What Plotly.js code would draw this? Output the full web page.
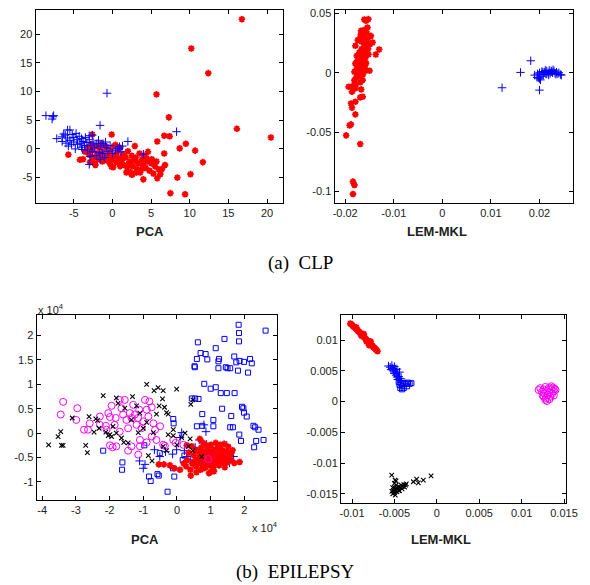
<!DOCTYPE html>
<html>
<head>
<meta charset="utf-8">
<script src="https://cdn.plot.ly/plotly-3.0.1.min.js"></script>
<style>html,body{margin:0;padding:0;background:#fff;}#chart{width:590px;height:585px;}</style>
</head>
<body>
<div id="chart"></div>
<script>
// ---------- (a) CLP : PCA ----------
const clpPcaRed = [
[16.75,22.6],[10.2,17.5],[12.4,13.2],[5.7,9.5],[7.3,5.5],[16.1,3.5],[20.5,2.0],[6.7,2.3],[7.4,2.2],[9.5,0.9],
[8.7,0.1],[10.7,-0.3],[5.8,1.3],[6.7,-0.8],[11.7,-2.3],[10.1,-4.4],[8.4,-5.0],[5.8,-5.1],[4.0,-5.3],[7.5,-7.7],
[9.4,-7.9],[-0.1,2.5],[-2.6,2.5],[-5.7,-1.0],[-4.2,-1.9],
[-3.5,-0.5],[-3.2,0.3],[-3,-1],[-2.8,0.8],[-2.6,-0.2],[-2.5,-1.5],[-2.3,-2.5],[-2.2,0.5],[-2,-0.8],[-1.8,-1.8],
[-1.7,0.2],[-1.5,-1.2],[-1.3,-2.2],[-1.2,-0.5],[-1,-1.5],[-0.8,0.4],[-0.7,-2.0],[-0.5,-1.0],[-0.3,-2.6],[-0.2,-0.3],
[0,-1.8],[0.1,-3.2],[0.2,0.5],[0.3,-1.2],[0.5,-2.3],[0.6,-0.6],[0.8,-1.6],[1,-3],[1,0.2],[1.2,-2],
[1.4,-1],[1.5,-2.8],[1.7,-1.5],[1.9,-3.2],[2,-0.4],[2.2,-2.2],[2.3,-4],[2.5,-1.2],[2.6,-3],[2.8,-2],
[2.9,0.5],[3,-1.5],[3.2,-3.5],[3.3,-2.5],[3.5,-0.8],[3.6,-4.1],[3.8,-1.9],[4,-2.8],[4.1,-1.2],[4.3,-3.3],
[4.5,-2.2],[4.6,-0.5],[4.8,-3.8],[5,-2.5],[5.1,-1.8],[5.3,-4.3],[5.5,-3],[5.7,-2.2],[6,-3.6],[6.2,-4.4],
[6.4,-3.5],[6.8,-2.8],[2.6,-4.4],[3.1,-4],[-2.9,-2.3],[-3.8,-1.8],[-2.2,-2.8],[-1.4,0.9],[0.4,0.7],[-0.1,-3.1],
[1.5,-1.3],[2.5,-4.5],[1.8,-4.1],[3.1,-4.1],[4.4,-1.6],[5.4,-2.4],[3.9,-3.4],[2.1,-2.7],[0.9,-2.4],[-0.4,-1.5]
];
const clpPcaBlue = [
[-8.6,5.8],[-7.7,5.6],[-7.6,5.8],[-7.8,5.2],[-0.7,9.7],[-1.6,4.1],[8.3,3.0],[-7.2,1.8],[-6.5,2.1],[-6.3,2.6],
[-6.1,2.4],[-5.8,3.3],[-5.5,3.3],[-3.0,2.3],[-2.6,2.4],[2.0,1.3],[0.9,0.4],[1.3,0.5],[4.0,-0.9],[-3.0,-2.7],
[-6,1],[-5.7,0.5],[-5.5,1.5],[-5.3,0.8],[-5,2],[-5,1.2],[-4.8,0],[-4.6,1.6],[-4.5,0.8],[-4.3,2.2],
[-4.2,1],[-4,0.3],[-4,1.8],[-3.8,1.3],[-3.6,0.6],[-3.5,2.0],[-3.3,1.1],[-3.2,-0.2],[-3,1.6],[-2.8,0.6],
[-2.6,-0.5],[-2.5,1.2],[-2.3,0.2],[-2.1,-1.2],[-2,0.9],[-1.8,1.5],[-1.7,-0.6],[-1.5,0.5],[-1.3,-0.8],[-1.2,0.9],
[-1,-1.5],[-0.8,0.2],[-0.6,-0.4],[-0.3,0.6],[0,-0.8],[0.4,-0.2],[0.7,0.1],[1.1,-0.5],[-5.8,1.9],[-4.7,2.7],
[-3.9,-0.1],[-2.9,-1.3],[-1.6,-1.8],[-0.9,1.2],[-6.5,1.3],[-5.2,2.5]
];
// ---------- (a) CLP : LEM-MKL ----------
const clpLemRed = [
[-0.01605,0.0448],[-0.01524,0.0451],[-0.01571,0.0437],[-0.01673,0.0353],[-0.0157,0.0367],[-0.0155,0.033],[-0.0147,0.031],[-0.0164,0.033],[-0.0171,0.0283],[-0.0174,0.0275],
[-0.01435,0.0255],[-0.0179,0.0227],[-0.0161,0.0218],[-0.0130,0.0196],[-0.0137,0.0154],[-0.0152,0.0154],[-0.0165,0.0168],[-0.0176,0.0143],[-0.0159,0.012],[-0.0171,0.0092],
[-0.0179,0.0078],[-0.0167,0.007],[-0.0176,0.0036],[-0.0150,0.0017],[-0.0181,0.0008],[-0.0167,0.0008],[-0.0174,-0.002],[-0.0164,-0.0062],[-0.0181,-0.0062],[-0.0184,-0.0112],
[-0.0193,-0.0118],[-0.0179,-0.013],[-0.0186,-0.016],[-0.0164,-0.0202],[-0.0169,-0.0207],[-0.0179,-0.0244],[-0.0188,-0.0258],[-0.0186,-0.0294],[-0.0179,-0.035],[-0.0188,-0.0434],
[-0.0191,-0.0443],[-0.0198,-0.0527],[-0.0169,-0.0599],[-0.0184,-0.0916],[-0.0181,-0.0944],[-0.0184,-0.102],
[-0.0172,0.001],[-0.0168,-0.003],[-0.0165,0.004],[-0.0162,0.010],[-0.0170,0.013],[-0.0160,0.018],[-0.0158,0.024],[-0.0166,0.020],[-0.0155,0.028],[-0.0162,0.029],
[-0.0174,0.006],[-0.0169,-0.008],[-0.0177,-0.004],[-0.0158,0.014],[-0.0153,0.020],[-0.0149,0.024],[-0.0163,-0.001],[-0.0178,-0.010],[-0.0171,0.017],[-0.0166,0.026],
[-0.0160,0.036],[-0.0154,0.038],[-0.0168,0.032],[-0.0175,0.010],[-0.0160,0.005],[-0.0157,0.008],[-0.0164,0.014],[-0.0176,0.001],[-0.0180,-0.008],[-0.0167,-0.014],[-0.0158,0.002]
];
const clpLemBlue = [
[0.0123,-0.0126],[0.0161,0.0003],[0.0182,0.0101],[0.0200,-0.0146],[0.0190,-0.002],[0.0195,-0.0039],
[0.0196,-0.001],[0.0200,0.000],[0.0203,-0.003],[0.0205,0.001],[0.0208,-0.0015],[0.0210,0.0005],[0.0213,-0.001],[0.0215,0.0015],[0.0218,0.000],[0.0220,0.002],
[0.0222,-0.0005],[0.0225,0.001],[0.0227,0.0],[0.0230,0.0015],[0.0232,-0.0005],[0.0235,0.0005],[0.0238,-0.001],[0.0240,0.0],[0.0243,-0.0015],[0.0245,-0.002],
[0.0200,-0.005],[0.0198,-0.004],[0.0215,-0.001],[0.0228,0.0025],[0.0212,0.002],[0.0219,-0.0018],[0.0224,0.0015],[0.0234,-0.0012],[0.0202,-0.006],[0.0207,0.0005]
];
// ---------- (b) EPILEPSY : PCA (values in units of 10^4) ----------
const epiPcaBlack = [
[-3.81,-0.24],[-3.53,-0.07],[-3.45,0.03],[-3.43,-0.25],[-3.38,-0.25],[-3.11,0.31],[-2.71,-0.25],[-2.66,-0.40],[-2.61,0.34],[-2.46,0.02],
[-2.41,0.29],[-2.36,0.26],[-2.31,0.10],[-2.19,0.77],[-2.11,0.02],[-2.04,-0.05],[-1.99,-0.03],[-1.94,-0.07],[-1.80,0.72],[-1.75,0.61],
[-1.55,0.51],[-1.32,0.75],[-1.58,-0.19],[-1.20,0.56],[-0.90,1.00],[-0.68,0.87],[-0.56,0.93],[-0.41,0.87],[-0.01,0.90],[-0.43,0.70],
[-0.53,0.56],[-0.37,0.53],[-0.31,0.42],[-0.26,0.39],[-0.61,0.39],[-0.90,0.22],[-0.70,0.01],[-0.26,-0.03],[-0.11,-0.05],[0.14,-0.09],
[0.24,0.0],[0.39,-0.12],[0.41,0.59],[0.47,0.68],[-1.0,0.1],[-1.15,0.01],[-1.45,-0.2],[-0.74,-0.57],[-0.85,-0.46],[-0.41,-0.27],
[-0.31,-0.36],[0.34,-0.27],[0.47,-0.36],[0.73,-0.48],[-1.8,0.0],[-1.65,-0.1],[-1.9,0.14],[-1.35,0.27],[-1.1,0.41],[-0.11,0.07],[0.0,-0.24]
];
const epiPcaMagenta = [
[-3.38,0.64],[-3.45,0.38],[-2.96,0.51],[-2.99,0.27],[-2.76,0.07],[-2.64,0.07],[-2.59,0.20],[-2.29,0.17],[-2.11,0.15],[-2.09,0.07],
[-2.04,0.41],[-1.99,0.33],[-1.94,0.56],[-1.99,-0.25],[-1.91,-0.29],[-1.80,-0.27],[-1.70,0.68],[-1.65,0.51],[-1.60,0.38],[-1.55,0.68],
[-1.50,0.27],[-1.45,0.10],[-1.40,0.41],[-1.35,0.31],[-1.30,0.58],[-1.25,0.38],[-1.20,0.17],[-1.15,0.31],[-1.12,0.48],[-1.05,0.10],
[-1.00,0.24],[-0.95,0.68],[-0.90,0.48],[-0.85,0.34],[-0.82,0.65],[-0.75,0.53],[-0.70,0.20],[-0.65,0.07],[-0.61,-0.14],[-0.50,0.14],
[-0.41,-0.24],[-0.36,-0.26],[-1.45,-0.36],[-1.10,-0.27],[-0.90,-0.19],[-1.15,-0.44],[-1.1,-0.14],[-1.85,0.17],[-1.70,0.03],[-0.11,-0.14],
[-0.04,-0.20],[0.19,-0.24],[0.93,-0.53],[-2.29,0.34],[-1.82,0.31],[-0.75,-0.07],[-1.35,-0.27]
];
const epiPcaBlueSq = [
[1.83,2.22],[1.84,2.05],[1.84,1.88],[2.63,2.10],[0.62,1.86],[0.70,1.64],[0.85,1.62],[1.15,1.74],[0.59,1.52],[0.90,1.51],
[1.25,1.52],[1.23,1.47],[1.23,1.33],[1.41,1.93],[1.58,1.33],[1.70,1.57],[1.76,1.45],[1.86,1.48],[1.81,1.28],[1.99,1.46],
[2.11,1.24],[2.17,1.52],[2.22,1.43],[0.52,1.37],[0.53,1.35],[1.50,1.33],[1.45,1.35],[0.81,1.01],[1.00,0.91],[1.15,0.94],
[1.30,0.82],[1.48,0.82],[1.71,0.82],[0.44,0.71],[0.54,0.71],[0.64,0.70],[1.34,0.50],[1.93,0.54],[1.97,0.51],[1.99,0.42],
[2.07,0.34],[0.75,0.39],[1.08,0.27],[1.61,0.35],[0.59,0.14],[0.75,0.15],[1.08,0.14],[1.58,0.12],[1.66,0.12],[2.27,0.15],
[2.32,0.12],[2.42,0.07],[1.85,-0.03],[1.90,-0.16],[2.35,-0.16],[2.57,-0.14],[2.29,-0.29],[-0.11,0.29],[-0.10,0.20],[-0.97,-0.25],
[-2.19,-0.36],[-1.62,-0.60],[-1.63,-0.75],[-0.83,-0.89],[-0.78,-0.98],[-0.58,-0.84],[-0.54,-0.87],[-0.08,-0.89],[-0.28,-1.20],[-0.51,-0.41],
[-0.12,-0.72],[0.17,-0.55],[0.22,-0.46]
];
const epiPcaBluePlus = [
[-1.11,-0.57],[-1.00,-0.72],[-0.95,-0.64],[-0.67,-0.34],[-0.51,-0.48],[-0.34,-0.38],[-0.13,-0.43],[-0.01,-0.34],[0.14,0.01],[0.09,-0.09],
[0.22,-0.36],[0.29,-0.48],[0.41,-0.55],[0.54,-0.29],[0.71,-0.39],[0.80,0.17],[0.88,-0.23],[1.01,-0.29],[1.18,-0.41],[1.33,-0.34],
[1.48,-0.25],[1.56,-0.61],[1.68,-0.48],[0.86,0.03],[0.66,-0.14]
];
const epiPcaRed = [
[-0.54,-0.64],[-0.39,-0.64],[-0.21,-0.66],[-0.08,-0.72],[0.09,-0.75],[0.27,-0.68],[0.41,-0.87],[0.56,-0.68],[0.68,-0.12],[0.78,-0.20],
[1.01,-0.24],[1.28,-0.24],[1.61,-0.41],[1.70,-0.61],[1.86,-0.59],[1.01,-0.79],[0.80,-0.72],[0.29,-0.25],[0.44,-0.27],
[0.5,-0.45],[0.55,-0.55],[0.6,-0.35],[0.62,-0.62],[0.65,-0.5],[0.68,-0.42],[0.7,-0.58],[0.72,-0.3],[0.75,-0.65],[0.78,-0.48],
[0.8,-0.38],[0.82,-0.55],[0.85,-0.7],[0.87,-0.44],[0.9,-0.6],[0.92,-0.32],[0.95,-0.52],[0.97,-0.66],[1.0,-0.4],[1.02,-0.58],
[1.05,-0.48],[1.08,-0.7],[1.1,-0.35],[1.12,-0.55],[1.15,-0.62],[1.18,-0.44],[1.2,-0.3],[1.22,-0.52],[1.25,-0.66],[1.28,-0.4],
[1.3,-0.58],[1.32,-0.48],[1.35,-0.35],[1.38,-0.6],[1.4,-0.45],[1.42,-0.7],[1.45,-0.52],[1.48,-0.38],[1.5,-0.6],[1.52,-0.28],
[1.55,-0.48],[1.6,-0.55],[1.3,-0.25],[1.1,-0.78],[0.95,-0.82],[0.7,-0.75],[0.45,-0.62],[0.4,-0.75],[0.58,-0.8],[1.4,-0.22],
[0.88,-0.25],[1.15,-0.2],[0.3,-0.55],[0.35,-0.4],[1.65,-0.35],[0.2,-0.62],[0.98,-0.45],[1.25,-0.45],[0.75,-0.42],[1.05,-0.62]
];
// ---------- (b) EPILEPSY : LEM-MKL ----------
const epiLemRed = [
[-0.0102,0.0127],[-0.0101,0.0126],[-0.0100,0.0125],[-0.0099,0.0123],[-0.0098,0.0122],[-0.0097,0.0121],[-0.0096,0.0120],[-0.0095,0.0118],[-0.0094,0.0117],[-0.0093,0.0115],
[-0.0092,0.0114],[-0.0091,0.0113],[-0.0090,0.0111],[-0.0089,0.0110],[-0.0088,0.0108],[-0.0087,0.0107],[-0.0086,0.0105],[-0.0085,0.0104],[-0.0084,0.0102],[-0.0083,0.0101],
[-0.0082,0.0099],[-0.0081,0.0098],[-0.0080,0.0097],[-0.0079,0.0095],[-0.0078,0.0094],[-0.0077,0.0092],[-0.0076,0.0091],[-0.0075,0.0089],[-0.0074,0.0088],[-0.0073,0.0087],
[-0.0072,0.0085],[-0.0071,0.0084],[-0.0070,0.0082],[-0.0080,0.0092],[-0.0083,0.0098],[-0.0089,0.0107],[-0.0095,0.0121],[-0.0086,0.0110],[-0.0078,0.0098]
];
const epiLemBlueSq = [
[-0.0044,0.0027],[-0.0041,0.0025],[-0.0043,0.0022],[-0.0040,0.0028],[-0.0038,0.0030],[-0.0036,0.0029],[-0.0034,0.0031],[-0.0032,0.0029],[-0.0030,0.0030],[-0.0035,0.0025],
[-0.0039,0.0022],[-0.0041,0.0020],[-0.0042,0.0030],[-0.0045,0.0032]
];
const epiLemBluePlus = [
[-0.0057,0.0058],[-0.0055,0.0056],[-0.0053,0.0059],[-0.0052,0.0054],[-0.0050,0.0057],[-0.0049,0.0052],[-0.0051,0.0050],[-0.0048,0.0048],[-0.0047,0.0053],[-0.0046,0.0045],
[-0.0048,0.0043],[-0.0045,0.0041],[-0.0044,0.0038],[-0.0046,0.0036],[-0.0043,0.0034],[-0.0054,0.0052],[-0.0050,0.0046],[-0.0047,0.0040],[-0.0044,0.0048],[-0.0042,0.0037]
];
const epiLemMagenta = [
[0.0120,0.0019],[0.0122,0.0022],[0.0124,0.0016],[0.0125,0.0010],[0.0126,0.0020],[0.0127,0.0013],[0.0128,0.0024],[0.0129,0.0006],[0.0130,0.0018],[0.0130,0.0001],
[0.0131,0.0011],[0.0132,0.0022],[0.0133,0.0015],[0.0134,0.0008],[0.0135,0.0020],[0.0136,0.0013],[0.0137,0.0023],[0.0138,0.0017],[0.0139,0.0021],[0.0140,0.0019],
[0.0128,0.0003],[0.0133,0.0004],[0.0126,0.0008],[0.0135,0.0025],[0.0138,0.0010]
];
const epiLemBlack = [
[-0.00532,-0.01196],[-0.00493,-0.01277],[-0.00238,-0.01261],[-0.00218,-0.01321],[-0.00159,-0.01277],[-0.00068,-0.01207],[-0.00277,-0.01304],
[-0.0052,-0.0150],[-0.0051,-0.0145],[-0.0050,-0.0140],[-0.0049,-0.0152],[-0.0048,-0.0136],[-0.0047,-0.0147],[-0.0046,-0.0142],[-0.0045,-0.0138],[-0.0044,-0.0145],
[-0.0043,-0.0140],[-0.0042,-0.0136],[-0.0041,-0.0142],[-0.0040,-0.0138],[-0.0039,-0.0135],[-0.0038,-0.0139],[-0.0037,-0.0136],[-0.0036,-0.0134],[-0.0050,-0.0133],[-0.0048,-0.0129],
[-0.0052,-0.0140],[-0.0050,-0.0148],[-0.0047,-0.0141],[-0.0045,-0.0145],[-0.0053,-0.0146],[-0.0049,-0.0143]
];
// ---------- tick labels ----------
const p1xTicks = [-5,0,5,10,15,20], p1yTicks = [-5,0,5,10,15,20];
const p2xTicks = [-0.02,-0.01,0,0.01,0.02], p2yTicks = [-0.1,-0.05,0,0.05];
const p3xTicks = [-4,-3,-2,-1,0,1,2], p3yTicks = [-1,-0.5,0,0.5,1,1.5,2];
const p4xTicks = [-0.01,-0.005,0,0.005,0.01,0.015], p4yTicks = [-0.015,-0.01,-0.005,0,0.005,0.01];
const captions = ['(a)\u00a0\u00a0CLP', '(b)\u00a0\u00a0EPILEPSY'];
const axisNames = ['PCA', 'LEM-MKL'];

// ---------- build ----------
const W = 590, H = 585;
const fx = p => p / W, fy = p => 1 - p / H;
const sym = {
  star:  {symbol:'asterisk-open', size:5.5, line:{color:'#ff0000', width:1.8}, color:'#ff0000'},
  plus:  {symbol:'cross-thin-open', size:6, line:{color:'#0000ff', width:1}, color:'#0000ff'},
  sq:    {symbol:'square-open', size:5, line:{color:'#0000ff', width:1}, color:'#0000ff'},
  circ:  {symbol:'circle-open', size:7, line:{color:'#ff00ff', width:1}, color:'#ff00ff'},
  xk:    {symbol:'x-thin-open', size:4.5, line:{color:'#000000', width:1.1}, color:'#000000'}
};
function tr(pts, m, ax) {
  return {x: pts.map(p=>p[0]), y: pts.map(p=>p[1]), mode:'markers', type:'scatter',
          xaxis: 'x'+ax, yaxis: 'y'+ax, marker: m, hoverinfo:'skip', showlegend:false};
}
const data = [
  tr(clpPcaRed, sym.star, ''), tr(clpPcaBlue, sym.plus, ''),
  tr(clpLemRed, sym.star, '2'), tr(clpLemBlue, sym.plus, '2'),
  tr(epiPcaBlueSq, sym.sq, '3'), tr(epiPcaBluePlus, sym.plus, '3'), tr(epiPcaRed, sym.star, '3'),
  tr(epiPcaMagenta, sym.circ, '3'), tr(epiPcaBlack, sym.xk, '3'),
  tr(epiLemRed, sym.star, '4'), tr(epiLemBlueSq, sym.sq, '4'), tr(epiLemBluePlus, sym.plus, '4'),
  tr(epiLemMagenta, sym.circ, '4'), tr(epiLemBlack, sym.xk, '4')
];

function ax(dom, range, ticks, anchor) {
  return {domain: dom, range: range, anchor: anchor, tickmode:'array', tickvals: ticks,
    ticktext: ticks.map(v => String(v)), ticks:'inside', ticklen:4, tickwidth:1, tickcolor:'#000',
    showline:true, linecolor:'#000', linewidth:1, mirror:'ticks', showgrid:false, zeroline:false,
    tickfont:{family:'Liberation Sans, Arial, sans-serif', size:11, color:'#222'}, fixedrange:true};
}
const baseAnn = {xref:'paper', yref:'paper', showarrow:false, yanchor:'middle'};
const layout = {
  width: W, height: H, margin:{l:0,r:0,t:0,b:0}, paper_bgcolor:'#fff', plot_bgcolor:'#fff', showlegend:false,
  xaxis:  ax([fx(35.5), fx(282.5)], [-9.95, 22.0], p1xTicks, 'y'),
  yaxis:  ax([fy(202.7), fy(10)], [-9.37, 24.2], p1yTicks, 'x'),
  xaxis2: ax([fx(334.5), fx(572.5)], [-0.0222, 0.0268], p2xTicks, 'y2'),
  yaxis2: ax([fy(202.7), fy(10)], [-0.1093, 0.0528], p2yTicks, 'x2'),
  xaxis3: ax([fx(36.5), fx(276.7)], [-4.17, 2.96], p3xTicks, 'y3'),
  yaxis3: ax([fy(500), fy(315)], [-1.37, 2.42], p3yTicks, 'x3'),
  xaxis4: ax([fx(341), fx(565.7)], [-0.0113, 0.0152], p4xTicks, 'y4'),
  yaxis4: ax([fy(502.7), fy(315)], [-0.01645, 0.0141], p4yTicks, 'x4'),
  annotations: [
    {text: axisNames[0], x: fx(150), y: fy(232)},
    {text: axisNames[1], x: fx(437), y: fy(232)},
    {text: axisNames[0], x: fx(145), y: fy(539)},
    {text: axisNames[1], x: fx(441), y: fy(539)}
  ].map(a => Object.assign(a, baseAnn, {xanchor:'center',
      font:{family:'Liberation Sans, Arial, sans-serif', size:13, color:'#222', weight:'bold'}})).concat([
    {text: captions[0], x: fx(300), y: fy(263)},
    {text: captions[1], x: fx(295), y: fy(572)}
  ].map(a => Object.assign(a, baseAnn, {xanchor:'center',
      font:{family:'Liberation Serif, Times New Roman, serif', size:19, color:'#000'}}))).concat([
    {text: 'x 10<sup>4</sup>', x: fx(36), y: fy(309)},
    {text: 'x 10<sup>4</sup>', x: fx(250), y: fy(527)}
  ].map(a => Object.assign(a, baseAnn, {xanchor:'left',
      font:{family:'Liberation Sans, Arial, sans-serif', size:11, color:'#222'}})))
};
Plotly.newPlot('chart', data, layout, {staticPlot:true, displayModeBar:false});
</script>
</body>
</html>
